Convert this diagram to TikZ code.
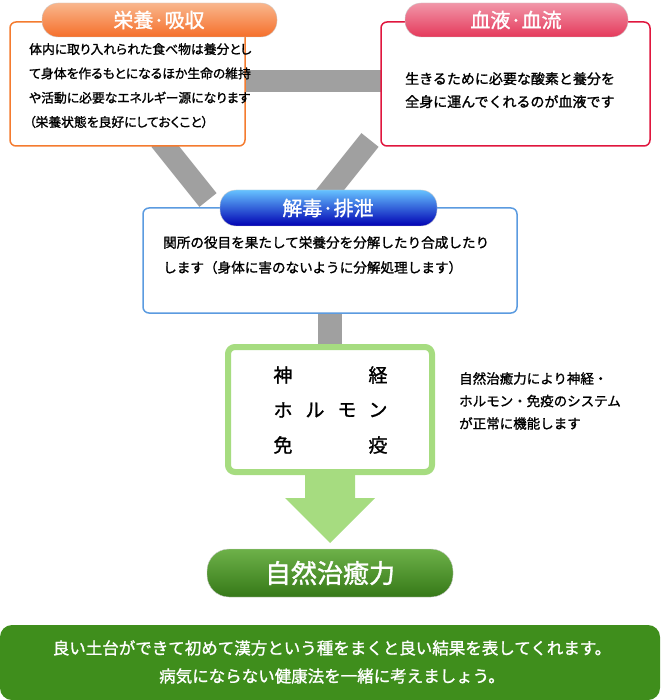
\documentclass[tikz,border=0pt]{standalone}
\usepackage{fontspec}
\setmainfont{Noto Sans CJK JP}
\newfontfamily\medf[FakeBold=1.3]{Noto Sans CJK JP}
\newfontfamily\palf[FakeBold=1.3,RawFeature=+palt]{Noto Sans CJK JP}
\usetikzlibrary{shadings}
\definecolor{ora}{HTML}{F47B2F}
\definecolor{red1}{HTML}{E0163E}
\definecolor{blu}{HTML}{5B9BE0}
\definecolor{lgr}{HTML}{A6DC80}
\definecolor{dgr}{HTML}{3F8E1C}
\definecolor{bar}{HTML}{A0A0A0}
\tikzset{
 panel/.style={draw=#1, line width=1.5pt, rounded corners=6pt, fill=white},
 ptitle/.style={text=white, font=\medf\fontsize{20}{22}\selectfont},
 body/.style={align=left, anchor=north west, inner sep=0pt},
 gbar/.style={draw=bar, line width=22pt},
}
\begin{document}
\begin{tikzpicture}[x=1pt,y=-1pt]
\useasboundingbox (0,0) rectangle (660,700);
% bars
\coordinate (h1) at (245,81); \coordinate (h2) at (381,81);
\draw[gbar] (h1) -- (h2);
\coordinate (l1) at (160,140); \coordinate (l2) at (208,200);
\draw[gbar] (l1) -- (l2);
\coordinate (r1) at (370,140); \coordinate (r2) at (322,200);
\draw[gbar] (r1) -- (r2);
\coordinate (v1) at (330,310); \coordinate (v2) at (330,348);
\draw[draw=bar,line width=24pt] (v1) -- (v2);
% left
\draw[panel=ora] (10,22) rectangle (245,146);
\node[body, font=\palf\fontsize{12.8}{24.3}\selectfont] (lt) at (29,43) {体内に取り入れられた食べ物は養分とし\\て身体を作るもとになるほか生命の維持\\や活動に必要なエネルギー源になります\\（栄養状態を良好にしておくこと）};
\shade[top color=ora!55, bottom color=ora!90!red, rounded corners=16pt, draw=gray!40] (42,3) rectangle (277,37);
\node[ptitle] (lp) at (159,20) {栄養·吸収};
% right
\draw[panel=red1] (381,22) rectangle (650,146);
\node[body, font=\medf\fontsize{14}{23}\selectfont] (rt) at (405,72) {生きるために必要な酸素と養分を\\全身に運んでくれるのが血液です};
\shade[top color=red1!45, bottom color=red1!85, rounded corners=16pt, draw=gray!40] (405,3) rectangle (628,37);
\node[ptitle] (rp) at (516,20) {血液·血流};
% middle
\draw[panel=blu] (143,208) rectangle (517,313);
\node[body, font=\medf\fontsize{13.6}{25}\selectfont] (mt) at (163,236) {関所の役目を果たして栄養分を分解したり合成したり\\します（身体に害のないように分解処理します）};
\shade[top color=blue!40!cyan!60, bottom color=blue!70!black, rounded corners=16pt, draw=gray!40] (220,190) rectangle (437,226);
\node[ptitle] (mp) at (328,208) {解毒·排泄};
% green box
\draw[draw=lgr, line width=6pt, rounded corners=7pt, fill=white] (228,347) rectangle (432,472);
\begin{scope}[font=\medf\fontsize{19}{20}\selectfont]
\node (g1) at (283,375) {神};
\node (g2) at (378,375) {経};
\node (g3) at (283,410) {ホ};
\node (g4) at (315,410) {ル};
\node (g5) at (347,410) {モ};
\node (g6) at (378,410) {ン};
\node (g7) at (283,445) {免};
\node (g8) at (378,445) {疫};
\end{scope}
\node[body, font=\medf\fontsize{13.5}{22.5}\selectfont] (st) at (459,372) {自然治癒力により神経・\\ホルモン・免疫のシステム\\が正常に機能します};
% arrow
\fill[lgr] (305,475) -- (355,475) -- (355,498) -- (375,498) -- (330,543) -- (285,498) -- (305,498) -- cycle;
% natural healing pill
\shade[top color=dgr!55!lgr, bottom color=dgr!85!black, rounded corners=22pt, draw=gray!40] (207,549) rectangle (453,597);
\node[text=white,font=\medf\fontsize{26}{28}\selectfont] (np) at (330,573) {自然治癒力};
% bottom
\fill[dgr, rounded corners=12pt] (0,625) rectangle (660,700);
\node[text=white, align=center, font=\medf\fontsize{16.5}{28}\selectfont] (bt) at (332,662) {良い土台ができて初めて漢方という種をまくと良い結果を表してくれます。\\病気にならない健康法を一緒に考えましょう。};
\end{tikzpicture}
\end{document}
